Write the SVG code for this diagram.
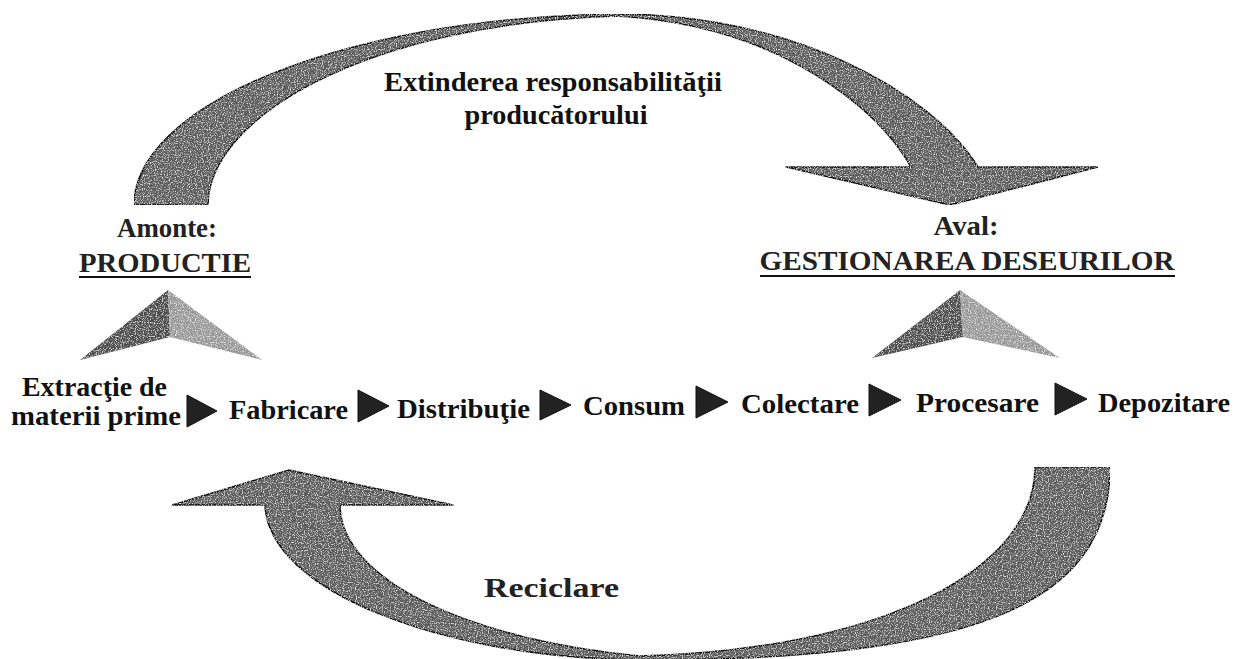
<svg xmlns="http://www.w3.org/2000/svg" width="1234" height="659" viewBox="0 0 1234 659">
<style>
  text { font-family: "Liberation Serif", "Times New Roman", serif; fill: #111; }
  .b { font-weight: bold; font-size: 27px; }
  .r { font-weight: 600; font-size: 27px; fill: #222; }
  .caps { font-weight: 600; font-size: 28px; fill: #222; }
  .big { fill: #5c5c5c; stroke: #111; stroke-width: 1.6; stroke-linejoin: round; }
  .tri { fill: #222; stroke: #111; stroke-width: 1; stroke-linejoin: round; }
  .pd { fill: #4e4e4e; }
  .pl { fill: #9a9a9a; }
  .ul { stroke: #111; stroke-width: 2; }
</style>
<defs>
  <filter id="grain" x="0" y="0" width="100%" height="100%">
    <feTurbulence type="fractalNoise" baseFrequency="0.85" numOctaves="1" seed="4" result="n"/>
    <feColorMatrix in="n" type="matrix" values="0 0 0 0 1  0 0 0 0 1  0 0 0 0 1  0 0 0 -3 1.5" result="dots"/>
    <feComposite in="dots" in2="SourceAlpha" operator="in" result="d2"/>
    <feMerge><feMergeNode in="SourceGraphic"/><feMergeNode in="d2"/></feMerge>
  </filter>
</defs>
<rect width="1234" height="659" fill="#fff"/>

<g id="connectors">
  <path id="arrow-top" class="big" filter="url(#grain)" d="M134,205 C134,110 330,18 617,14 C790,14 930,90 978,167 L1098,167 L950,205 L786,167 L911,167 C880,110 780,25 617,16 C360,24 208,120 208,205 Z"/>
  <path id="arrow-bottom" class="big" filter="url(#grain)" d="M1110,467 C1110,610 960,660 640,660 C440,658 268,590 265,505 L172,505 L289,470 L453,505 L340,505 C340,580 470,640 640,656 C880,650 1035,570 1035,467 Z"/>
  <g id="pyramid-left" filter="url(#grain)">
    <polygon class="pd" points="80,360 168,290 170,337"/>
    <polygon class="pl" points="168,290 262,360 170,337"/>
  </g>
  <g id="pyramid-right" filter="url(#grain)">
    <polygon class="pd" points="872,358 960,290 963,337"/>
    <polygon class="pl" points="960,290 1060,358 963,337"/>
  </g>
  <polygon class="tri" points="187,395 217,411 187,427"/>
  <polygon class="tri" points="358,390 389,406 358,422"/>
  <polygon class="tri" points="540,390 571,405 540,420"/>
  <polygon class="tri" points="696,386 728,402 696,418"/>
  <polygon class="tri" points="869,384 901,400 869,416"/>
  <polygon class="tri" points="1055,383 1087,399 1055,415"/>
</g>

<g id="label-epr">
  <text class="b" x="553" y="91" font-size="26" text-anchor="middle" textLength="338" lengthAdjust="spacingAndGlyphs">Extinderea responsabilităţii</text>
  <text class="b" x="556" y="124" font-size="26" text-anchor="middle" textLength="183" lengthAdjust="spacingAndGlyphs">producătorului</text>
</g>
<g id="node-amonte">
  <text class="r" x="167" y="237" text-anchor="middle" textLength="100" lengthAdjust="spacingAndGlyphs">Amonte:</text>
  <text class="caps" x="165" y="272" text-anchor="middle" textLength="172" lengthAdjust="spacingAndGlyphs">PRODUCTIE</text>
  <line class="ul" x1="79" y1="277" x2="251" y2="277"/>
</g>
<g id="node-aval">
  <text class="r" x="966" y="235" text-anchor="middle" textLength="65" lengthAdjust="spacingAndGlyphs">Aval:</text>
  <text class="caps" x="967" y="270" text-anchor="middle" textLength="415" lengthAdjust="spacingAndGlyphs">GESTIONAREA DESEURILOR</text>
  <line class="ul" x1="760" y1="276" x2="1175" y2="276"/>
</g>
<g id="node-extractie">
  <text class="b" x="22" y="396" textLength="145" lengthAdjust="spacingAndGlyphs">Extracţie de</text>
  <text class="b" x="11" y="425" textLength="170" lengthAdjust="spacingAndGlyphs">materii prime</text>
</g>
<g id="node-fabricare"><text class="b" x="229" y="419" textLength="119" lengthAdjust="spacingAndGlyphs">Fabricare</text></g>
<g id="node-distributie"><text class="b" x="397" y="418" textLength="133" lengthAdjust="spacingAndGlyphs">Distribuţie</text></g>
<g id="node-consum"><text class="b" x="583" y="415" textLength="102" lengthAdjust="spacingAndGlyphs">Consum</text></g>
<g id="node-colectare"><text class="b" x="741" y="413" textLength="118" lengthAdjust="spacingAndGlyphs">Colectare</text></g>
<g id="node-procesare"><text class="b" x="916" y="412" textLength="123" lengthAdjust="spacingAndGlyphs">Procesare</text></g>
<g id="node-depozitare"><text class="b" x="1098" y="412" textLength="132" lengthAdjust="spacingAndGlyphs">Depozitare</text></g>
<g id="label-reciclare">
  <text class="r" x="484" y="597" font-size="33" textLength="135" lengthAdjust="spacingAndGlyphs">Reciclare</text>
</g>
</svg>
